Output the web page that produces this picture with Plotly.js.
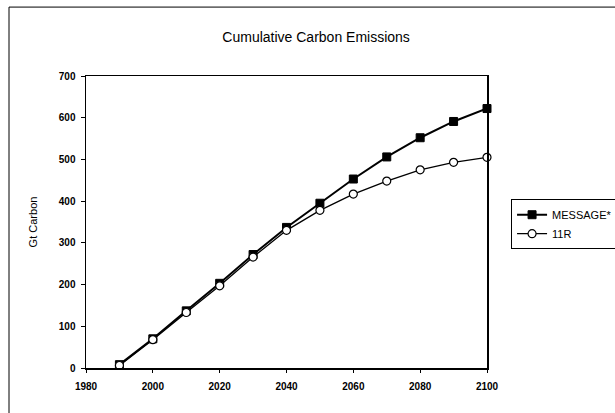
<!DOCTYPE html>
<html>
<head>
<meta charset="utf-8">
<script src="https://cdn.plot.ly/plotly-3.0.1.min.js"></script>
<style>
  html, body { margin: 0; padding: 0; background: #fff; }
  #chart { width: 615px; height: 413px; }
</style>
</head>
<body>
<div id="chart"></div>
<script>
// Cumulative carbon emissions (Gt C), 1990-2100
const years = [1990, 2000, 2010, 2020, 2030, 2040, 2050, 2060, 2070, 2080, 2090, 2100];
const messageSeries = [8, 70, 137, 203, 272, 337, 395, 453, 506, 552, 591, 622];
const r11Series = [6, 68, 133, 197, 266, 330, 378, 417, 448, 475, 493, 505];
const seriesNames = ['MESSAGE*', '11R'];
const xTicks = [1980, 2000, 2020, 2040, 2060, 2080, 2100];
const yTicks = [0, 100, 200, 300, 400, 500, 600, 700];

const baseFont = 'Arial, Liberation Sans, sans-serif';
const tickFont = { family: baseFont, size: 10, color: '#000', weight: 'bold' };

const traces = [
  {
    x: years, y: messageSeries, name: seriesNames[0],
    type: 'scatter', mode: 'lines+markers',
    line: { color: '#000', width: 2 },
    marker: { symbol: 'square', size: 8, color: '#000', line: { color: '#000', width: 1 } },
    cliponaxis: false
  },
  {
    x: years, y: r11Series, name: seriesNames[1],
    type: 'scatter', mode: 'lines+markers',
    line: { color: '#000', width: 1.3 },
    marker: { symbol: 'circle', size: 8, color: '#fff', line: { color: '#000', width: 1.2 } },
    cliponaxis: false
  }
];

const layout = {
  width: 615, height: 413,
  paper_bgcolor: '#fff', plot_bgcolor: '#fff',
  margin: { l: 86, r: 128, t: 76, b: 45, autoexpand: false },
  font: { family: baseFont, color: '#000' },
  title: {
    text: 'Cumulative Carbon Emissions',
    font: { family: baseFont, size: 14, color: '#000' },
    x: 0.514, xanchor: 'center', y: 0.91, yanchor: 'middle'
  },
  xaxis: {
    range: [1980, 2100], tickvals: xTicks, ticktext: xTicks.map(String),
    showgrid: false, zeroline: false,
    showline: true, linecolor: '#000', linewidth: 1.5, mirror: true,
    ticks: 'outside', ticklen: 3, tickcolor: '#000', tickwidth: 1,
    ticklabelstandoff: 5,
    tickfont: tickFont, automargin: false
  },
  yaxis: {
    range: [0, 700], tickvals: yTicks, ticktext: yTicks.map(String),
    showgrid: false, zeroline: false,
    showline: true, linecolor: '#000', linewidth: 1.5, mirror: true,
    ticks: 'outside', ticklen: 4, tickcolor: '#000', tickwidth: 1,
    ticklabelstandoff: 3,
    tickfont: tickFont, automargin: false,
    title: { text: 'Gt Carbon', font: { family: baseFont, size: 11, color: '#000' }, standoff: 19 }
  },
  legend: {
    x: 1.06, xanchor: 'left', y: 0.578, yanchor: 'top',
    bordercolor: '#000', borderwidth: 1, bgcolor: '#fff',
    font: { family: baseFont, size: 11, color: '#000' },
    itemwidth: 30, tracegroupgap: 0
  },
  showlegend: true,
  shapes: [
    // outer chart frame (top and left edges)
    { type: 'line', xref: 'paper', yref: 'paper', x0: -0.192, x1: 1.32, y0: 1.236, y1: 1.236, line: { color: '#000', width: 1 } },
    { type: 'line', xref: 'paper', yref: 'paper', x0: -0.192, x1: -0.192, y0: 1.236, y1: -0.16, line: { color: '#000', width: 1 } }
  ]
};

Plotly.newPlot('chart', traces, layout, { staticPlot: true, displayModeBar: false });
</script>
</body>
</html>
